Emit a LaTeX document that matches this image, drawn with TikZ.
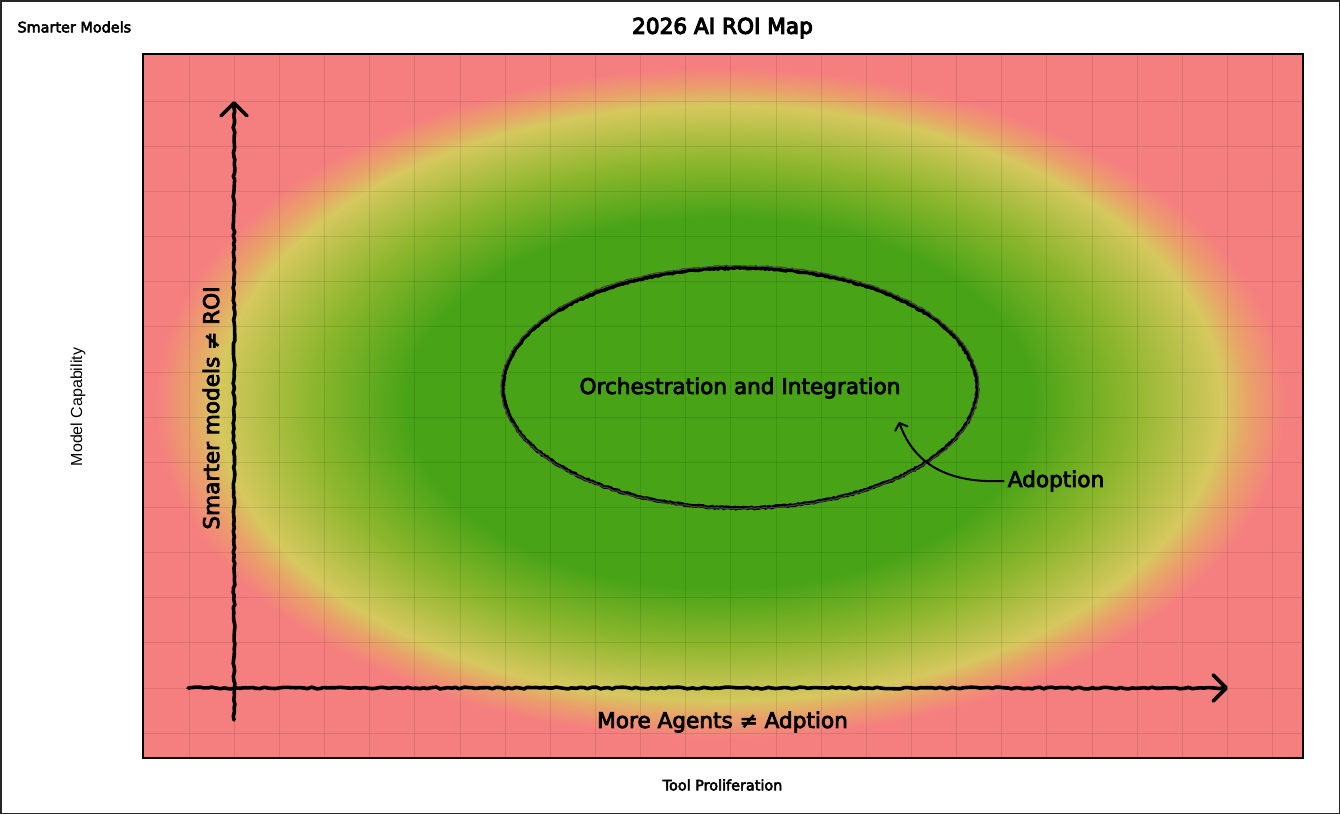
\documentclass[tikz,border=0pt]{standalone}
\usepackage{fontspec}
\setmainfont{DejaVu Sans}
\newfontfamily\arialfont{Liberation Sans}
\newfontfamily\medfont[FakeBold=3.5]{DejaVu Sans}
\newfontfamily\semifont[FakeBold=5]{DejaVu Sans}
\usetikzlibrary{arrows.meta,decorations.pathmorphing}

\definecolor{roired}{RGB}{245,127,127}
\definecolor{roiorange}{RGB}{234,160,106}
\definecolor{roiyellow}{RGB}{214,200,94}
\definecolor{roilime}{RGB}{140,182,44}
\definecolor{roigreen}{RGB}{72,163,23}

\pgfdeclareradialshading{roiglow}{\pgfpoint{0bp}{0bp}}{%
  color(0bp)=(roigreen); color(13.8bp)=(roigreen); color(18bp)=(roilime);
  color(22.2bp)=(roiyellow); color(23.5bp)=(roiorange); color(25bp)=(roired);
  color(50bp)=(roired)}

\tikzset{
  smalllabel/.style={font=\fontsize{14.4}{16}\selectfont\medfont},
  sidelabel/.style={font=\fontsize{16}{18}\selectfont\arialfont},
  biglabel/.style={font=\fontsize{21.6}{24}\selectfont\medfont},
  titlelabel/.style={font=\fontsize{21.6}{24}\selectfont\semifont},
  gridline/.style={black, opacity=0.1, line width=0.8pt},
  axisline/.style={line width=3.6pt, line join=round, line cap=round,
    decorate, decoration={random steps, segment length=4pt, amplitude=0.9pt}},
  axishead/.style={line width=3.6pt, line cap=round,
    -{Straight Barb[length=13pt, width=26pt, round]}},
  ringline/.style={black, line width=3.6pt,
    decorate, decoration={random steps, segment length=2pt, amplitude=0.7pt}},
  pointer/.style={line width=2pt, -{Straight Barb[length=6pt, width=13pt, round]}}
}

\begin{document}
\begin{tikzpicture}[x=1pt, y=-1pt]
  \useasboundingbox (0,0) rectangle (1340,814);
  \draw[black!85, line width=1.5pt] (0.75,0.75) rectangle (1339.25,813.25);

  % heat map
  \fill[roired] (143,54) rectangle (1303,758);
  \begin{scope}
    \clip (143,54) rectangle (1303,758);
    \shade[shading=roiglow] (720,403) ellipse [x radius=565pt, y radius=335pt];
    \foreach \k in {1,...,25}
      \draw[gridline] (143.85+45.15*\k,54) -- (143.85+45.15*\k,758);
    \foreach \k in {1,...,15}
      \draw[gridline] (143,55.85+45.15*\k) -- (1303,55.85+45.15*\k);
  \end{scope}
  \draw[line width=2.4pt] (143,54) rectangle (1303,758);

  % labels
  \node[smalllabel, anchor=west] (corner) at (14,27) {Smarter Models};
  \node[titlelabel] (title) at (722.5,28) {2026 AI ROI Map};
  \node[sidelabel, rotate=90] (ylabel) at (78,407) {Model Capability};
  \node[smalllabel] (xlabel) at (722.5,785) {Tool Proliferation};
  \node[biglabel, rotate=90] (ynote) at (211,408) {Smarter models ≠ ROI};
  \node[biglabel] (xnote) at (722.5,722) {More Agents ≠ Adption};

  % axes
  \coordinate (ybase) at (234,720);
  \coordinate (ytip) at (234,101);
  \coordinate (xbase) at (188,688);
  \coordinate (xtip) at (1228,688);
  \draw[axisline] (ybase) -- ([yshift=-4pt]ytip);
  \draw[axishead] ([yshift=-6pt]ytip) -- (ytip);
  \draw[axisline] (xbase) -- ([xshift=-4pt]xtip);
  \draw[axishead] ([xshift=-6pt]xtip) -- (xtip);

  % loop
  \node[biglabel] (orch) at (740,388) {Orchestration and Integration};
  \draw[ringline] (orch.center) ellipse [x radius=237pt, y radius=120pt];
  \draw[ringline, black!75, line width=1.2pt] ([yshift=0.8pt]orch.center) ellipse [x radius=238.5pt, y radius=121.5pt];

  \node[biglabel] (adopt) at (1056,481) {Adoption};
  \coordinate (adopttip) at (899,422);
  \draw[pointer] (adopt.west) .. controls (940,484) and (912,458) .. (adopttip);
\end{tikzpicture}
\end{document}
